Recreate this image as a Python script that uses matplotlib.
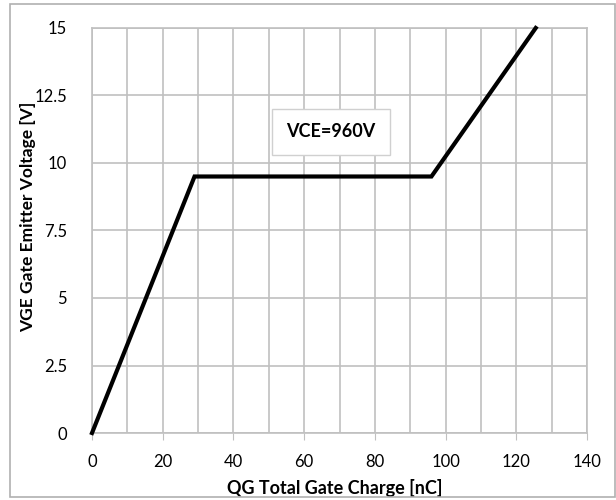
import matplotlib
matplotlib.use("Agg")
import matplotlib.pyplot as plt
from matplotlib.patches import Rectangle

qg = [0, 29, 96, 125.5]
vge = [0, 9.5, 9.5, 15]
x_ticks = [0, 20, 40, 60, 80, 100, 120, 140]
y_ticks = [0, 2.5, 5, 7.5, 10, 12.5, 15]
y_tick_labels = ["0", "2.5", "5", "7.5", "10", "12.5", "15"]
annotation = "VCE=960V"

plt.rcParams['font.family'] = ['Lato', 'DejaVu Sans']

W, H = 616, 500
fig = plt.figure(figsize=(W/100, H/100), dpi=100)
ax = fig.add_axes([92/W, 1-433/H, (587-92)/W, (433-28)/H])

grid_c = '#c0c0c0'
ax.set_xlim(0, 140)
ax.set_ylim(0, 15)
ax.set_xticks(x_ticks)
ax.set_xticks(range(0, 141, 10), minor=True)
ax.set_yticks(y_ticks)
ax.set_yticklabels(y_tick_labels)
ax.grid(True, which='both', color=grid_c, linewidth=1.2)
ax.set_axisbelow(True)
for s in ax.spines.values():
    s.set_color(grid_c)
    s.set_linewidth(1.2)
ax.tick_params(axis='x', which='major', length=5, color=grid_c, labelsize=12, pad=10)
ax.tick_params(axis='x', which='minor', length=0)
ax.tick_params(axis='y', length=0, labelsize=12, pad=18)

ax.plot(qg, vge, color='black', linewidth=3, solid_joinstyle='miter', clip_on=False, zorder=3)

ax.text(67.6, 11.15, annotation, fontsize=13, fontweight='bold', ha='center', va='center',
        bbox=dict(boxstyle='square,pad=0.8', facecolor='white', edgecolor='#d0d0d0', linewidth=1))

ax.set_xlabel("QG Total Gate Charge [nC]", fontsize=13, fontweight='bold', va='center')
ax.set_ylabel("VGE Gate Emitter Voltage [V]", fontsize=12.5, fontweight='bold', va='center')
ax.xaxis.set_label_coords((335-92)/495, (433-488)/405)
ax.yaxis.set_label_coords((28-92)/495, (433-217)/405)

fig.patches.append(Rectangle((10/W, 3/H), (615-10)/W, (497-4)/H, transform=fig.transFigure,
                             fill=False, edgecolor='#b0b0b0', linewidth=1.2))

fig.savefig("out.png", dpi=100)
